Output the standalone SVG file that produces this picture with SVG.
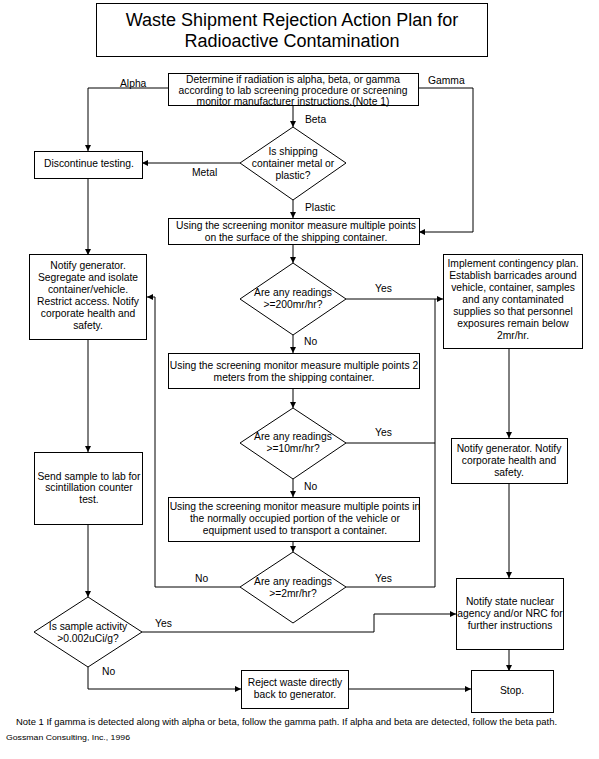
<svg xmlns="http://www.w3.org/2000/svg" width="599" height="759" viewBox="0 0 599 759">
<defs>
<marker id="ah" viewBox="0 0 6 6" refX="6" refY="3" markerWidth="6" markerHeight="6" orient="auto" markerUnits="userSpaceOnUse"><path d="M0,0 L6,3 L0,6 z" fill="#000"/></marker>
<style>
.b{fill:#fff;stroke:#000;stroke-width:1}
.t{font-family:"Liberation Sans",Arial,sans-serif;font-size:10.3px;fill:#000;text-anchor:middle}
.l{font-family:"Liberation Sans",Arial,sans-serif;font-size:10.3px;fill:#000}
.c path{fill:none;stroke:#000;stroke-width:1}
.a{marker-end:url(#ah)}
</style>
</defs>
<rect width="599" height="759" fill="#fff"/>
<g id="title">
<rect class="b" x="96.5" y="3.5" width="391" height="53"/>
<text class="t" x="292" y="26" style="font-size:18px">Waste Shipment Rejection Action Plan for</text>
<text class="t" x="292" y="47" style="font-size:18px">Radioactive Contamination</text>
</g>
<g class="c" id="connectors">
<path class="a" d="M168,88 H88 V151"/>
<path class="a" d="M418,88 H473 V232 H419"/>
<path class="a" d="M293,106 V127"/>
<path class="a" d="M240,163 H142"/>
<path class="a" d="M293,200 V218"/>
<path class="a" d="M293,245 V263"/>
<path class="a" d="M346,299 H443"/>
<path class="a" d="M293,335 V353"/>
<path class="a" d="M293,388 V408"/>
<path d="M346,443 H435"/>
<path class="a" d="M293,479 V497"/>
<path class="a" d="M293,541 V552"/>
<path class="a" d="M240,587 H155 V297 H147"/>
<path d="M346,587 H435 V299"/>
<path class="a" d="M509,348 V438"/>
<path class="a" d="M509,483 V578"/>
<path class="a" d="M509,649 V671"/>
<path class="a" d="M88,178 V255"/>
<path class="a" d="M88,339 V452"/>
<path class="a" d="M88,524 V597"/>
<path class="a" d="M142,632 H374 V614 H456"/>
<path class="a" d="M88,667 V689 H241"/>
<path class="a" d="M349,689 H471"/>
</g>
<g id="labels">
<text class="l" x="120" y="87">Alpha</text>
<text class="l" x="428" y="84">Gamma</text>
<text class="l" x="305" y="123">Beta</text>
<text class="l" x="192" y="176">Metal</text>
<text class="l" x="305" y="211">Plastic</text>
<text class="l" x="375" y="292">Yes</text>
<text class="l" x="304" y="345">No</text>
<text class="l" x="375" y="436">Yes</text>
<text class="l" x="304" y="490">No</text>
<text class="l" x="195" y="582">No</text>
<text class="l" x="375" y="582">Yes</text>
<text class="l" x="155" y="627">Yes</text>
<text class="l" x="102" y="675">No</text>
</g>
<g id="n_determine">
<rect class="b" x="168.5" y="73.5" width="250" height="32"/>
<text class="t" x="293" y="83">Determine if radiation is alpha, beta, or gamma</text>
<text class="t" x="293" y="94">according to lab screening procedure or screening</text>
<text class="t" x="293" y="105">monitor manufacturer instructions.(Note 1)</text>
</g>
<g id="n_container">
<path class="b" d="M293,127 L346,163 L293,200 L240,163 Z"/>
<text class="t" x="293" y="155">Is shipping</text>
<text class="t" x="293" y="167">container metal or</text>
<text class="t" x="293" y="179">plastic?</text>
</g>
<g id="n_discontinue">
<rect class="b" x="34.5" y="151.5" width="108" height="27"/>
<text class="t" x="89" y="167">Discontinue testing.</text>
</g>
<g id="n_surface">
<rect class="b" x="168.5" y="218.5" width="251" height="26"/>
<text class="t" x="296" y="229">Using the screening monitor measure multiple points</text>
<text class="t" x="296" y="241">on the surface of the shipping container.</text>
</g>
<g id="n_200">
<path class="b" d="M293,263 L346,299 L293,335 L240,299 Z"/>
<text class="t" x="293" y="296">Are any readings</text>
<text class="t" x="293" y="308">&gt;=200mr/hr?</text>
</g>
<g id="n_contingency">
<rect class="b" x="443.5" y="254.5" width="139" height="94"/>
<text class="t" x="513" y="267">Implement contingency plan.</text>
<text class="t" x="513" y="279">Establish barricades around</text>
<text class="t" x="513" y="291">vehicle, container, samples</text>
<text class="t" x="513" y="303">and any contaminated</text>
<text class="t" x="513" y="315">supplies so that personnel</text>
<text class="t" x="513" y="327">exposures remain below</text>
<text class="t" x="513" y="339">2mr/hr.</text>
</g>
<g id="n_notify1">
<rect class="b" x="29.5" y="254.5" width="117" height="85"/>
<text class="t" x="88" y="269">Notify generator.</text>
<text class="t" x="88" y="281">Segregate and isolate</text>
<text class="t" x="88" y="293">container/vehicle.</text>
<text class="t" x="88" y="305">Restrict access. Notify</text>
<text class="t" x="88" y="317">corporate health and</text>
<text class="t" x="88" y="329">safety.</text>
</g>
<g id="n_2m">
<rect class="b" x="168.5" y="353.5" width="251" height="35"/>
<text class="t" x="294" y="369">Using the screening monitor measure multiple points 2</text>
<text class="t" x="294" y="381">meters from the shipping container.</text>
</g>
<g id="n_10">
<path class="b" d="M293,408 L346,443 L293,479 L240,443 Z"/>
<text class="t" x="293" y="440">Are any readings</text>
<text class="t" x="293" y="452">&gt;=10mr/hr?</text>
</g>
<g id="n_notify2">
<rect class="b" x="451.5" y="438.5" width="116" height="45"/>
<text class="t" x="509" y="452">Notify generator. Notify</text>
<text class="t" x="509" y="464">corporate health and</text>
<text class="t" x="509" y="476">safety.</text>
</g>
<g id="n_sample">
<rect class="b" x="34.5" y="452.5" width="108" height="72"/>
<text class="t" x="89" y="480">Send sample to lab for</text>
<text class="t" x="89" y="491">scintillation counter</text>
<text class="t" x="89" y="503">test.</text>
</g>
<g id="n_vehicle">
<rect class="b" x="168.5" y="497.5" width="251" height="44"/>
<text class="t" x="295" y="510">Using the screening monitor measure multiple points in</text>
<text class="t" x="295" y="522">the normally occupied portion of the vehicle or</text>
<text class="t" x="295" y="534">equipment used to transport a container.</text>
</g>
<g id="n_2mr">
<path class="b" d="M293,552 L346,587 L293,623 L240,587 Z"/>
<text class="t" x="293" y="585">Are any readings</text>
<text class="t" x="293" y="597">&gt;=2mr/hr?</text>
</g>
<g id="n_state">
<rect class="b" x="456.5" y="578.5" width="107" height="71"/>
<text class="t" x="510" y="605">Notify state nuclear</text>
<text class="t" x="510" y="617">agency and/or NRC for</text>
<text class="t" x="510" y="629">further instructions</text>
</g>
<g id="n_activity">
<path class="b" d="M88,597 L142,632 L88,667 L34,632 Z"/>
<text class="t" x="88" y="630">Is sample activity</text>
<text class="t" x="88" y="642">&gt;0.002uCi/g?</text>
</g>
<g id="n_reject">
<rect class="b" x="241.5" y="670.5" width="107" height="38"/>
<text class="t" x="295" y="686">Reject waste directly</text>
<text class="t" x="295" y="698">back to generator.</text>
</g>
<g id="n_stop">
<rect class="b" x="471.5" y="670.5" width="82" height="42"/>
<text class="t" x="512" y="694">Stop.</text>
</g>
<g id="notes">
<text class="l" x="16" y="725" style="font-size:9.4px" textLength="541" lengthAdjust="spacingAndGlyphs">Note 1  If gamma is detected along with alpha or beta, follow the gamma path. If alpha and beta are detected, follow the beta path.</text>
<text class="l" x="6" y="740" style="font-size:7.5px" textLength="124" lengthAdjust="spacingAndGlyphs">Gossman Consulting, Inc., 1996</text>
</g>
</svg>
